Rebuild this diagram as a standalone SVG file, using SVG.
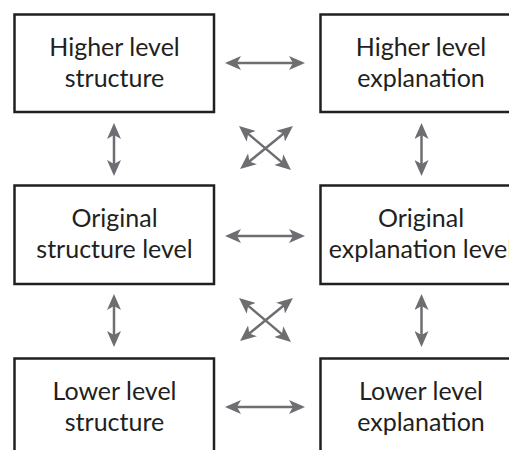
<svg xmlns="http://www.w3.org/2000/svg" width="509" height="450" viewBox="0 0 509 450">
<style>
.box{fill:#fff;stroke:#231f20;stroke-width:2.5}
.lbl{font-family:Lato,"Open Sans","Liberation Sans",sans-serif;font-size:25px;fill:#231f20;text-anchor:middle}
.arr{stroke:#6d6e71;stroke-width:2.5;fill:none;marker-start:url(#ah);marker-end:url(#ah)}
</style>
<defs>
<marker id="ah" viewBox="0 0 16 14" refX="10" refY="7" markerWidth="16" markerHeight="14" markerUnits="userSpaceOnUse" orient="auto-start-reverse">
<path d="M0,0 L16,7 L0,14 L4,7 Z" fill="#6d6e71"/>
</marker>
</defs>
<rect width="509" height="450" fill="#fff"/>
<g id="higher-structure"><rect class="box" x="14.5" y="14.5" width="199.5" height="97.5"/><text class="lbl" x="114.5" y="56">Higher level</text><text class="lbl" x="114.5" y="87">structure</text></g>
<g id="higher-explanation"><rect class="box" x="320.5" y="14.5" width="200" height="97.5"/><text class="lbl" x="421" y="56">Higher level</text><text class="lbl" x="421" y="87">explanation</text></g>
<g id="original-structure"><rect class="box" x="14.5" y="185.5" width="199.5" height="98.5"/><text class="lbl" x="114.5" y="227">Original</text><text class="lbl" x="114.5" y="258">structure level</text></g>
<g id="original-explanation"><rect class="box" x="320.5" y="185.5" width="200" height="98.5"/><text class="lbl" x="421" y="227">Original</text><text class="lbl" x="421" y="258">explanation level</text></g>
<g id="lower-structure"><rect class="box" x="14.5" y="358.5" width="199.5" height="100"/><text class="lbl" x="114.5" y="400">Lower level</text><text class="lbl" x="114.5" y="431">structure</text></g>
<g id="lower-explanation"><rect class="box" x="320.5" y="358.5" width="200" height="100"/><text class="lbl" x="421" y="400">Lower level</text><text class="lbl" x="421" y="431">explanation</text></g>
<g id="connectors">
<line class="arr" x1="231" y1="63" x2="299" y2="63"/>
<line class="arr" x1="231" y1="236" x2="299" y2="236"/>
<line class="arr" x1="231" y1="407" x2="299" y2="407"/>
<line class="arr" x1="114" y1="129" x2="114" y2="170"/>
<line class="arr" x1="421.5" y1="129" x2="421.5" y2="170"/>
<line class="arr" x1="114" y1="300" x2="114" y2="341"/>
<line class="arr" x1="421.5" y1="300" x2="421.5" y2="341"/>
<line class="arr" x1="243.6" y1="129.9" x2="286.4" y2="166.1"/>
<line class="arr" x1="288.3" y1="129.8" x2="244.7" y2="165.2"/>
<line class="arr" x1="243.6" y1="301.9" x2="286.4" y2="338.1"/>
<line class="arr" x1="288.3" y1="301.8" x2="244.7" y2="337.2"/>
</g>
</svg>
